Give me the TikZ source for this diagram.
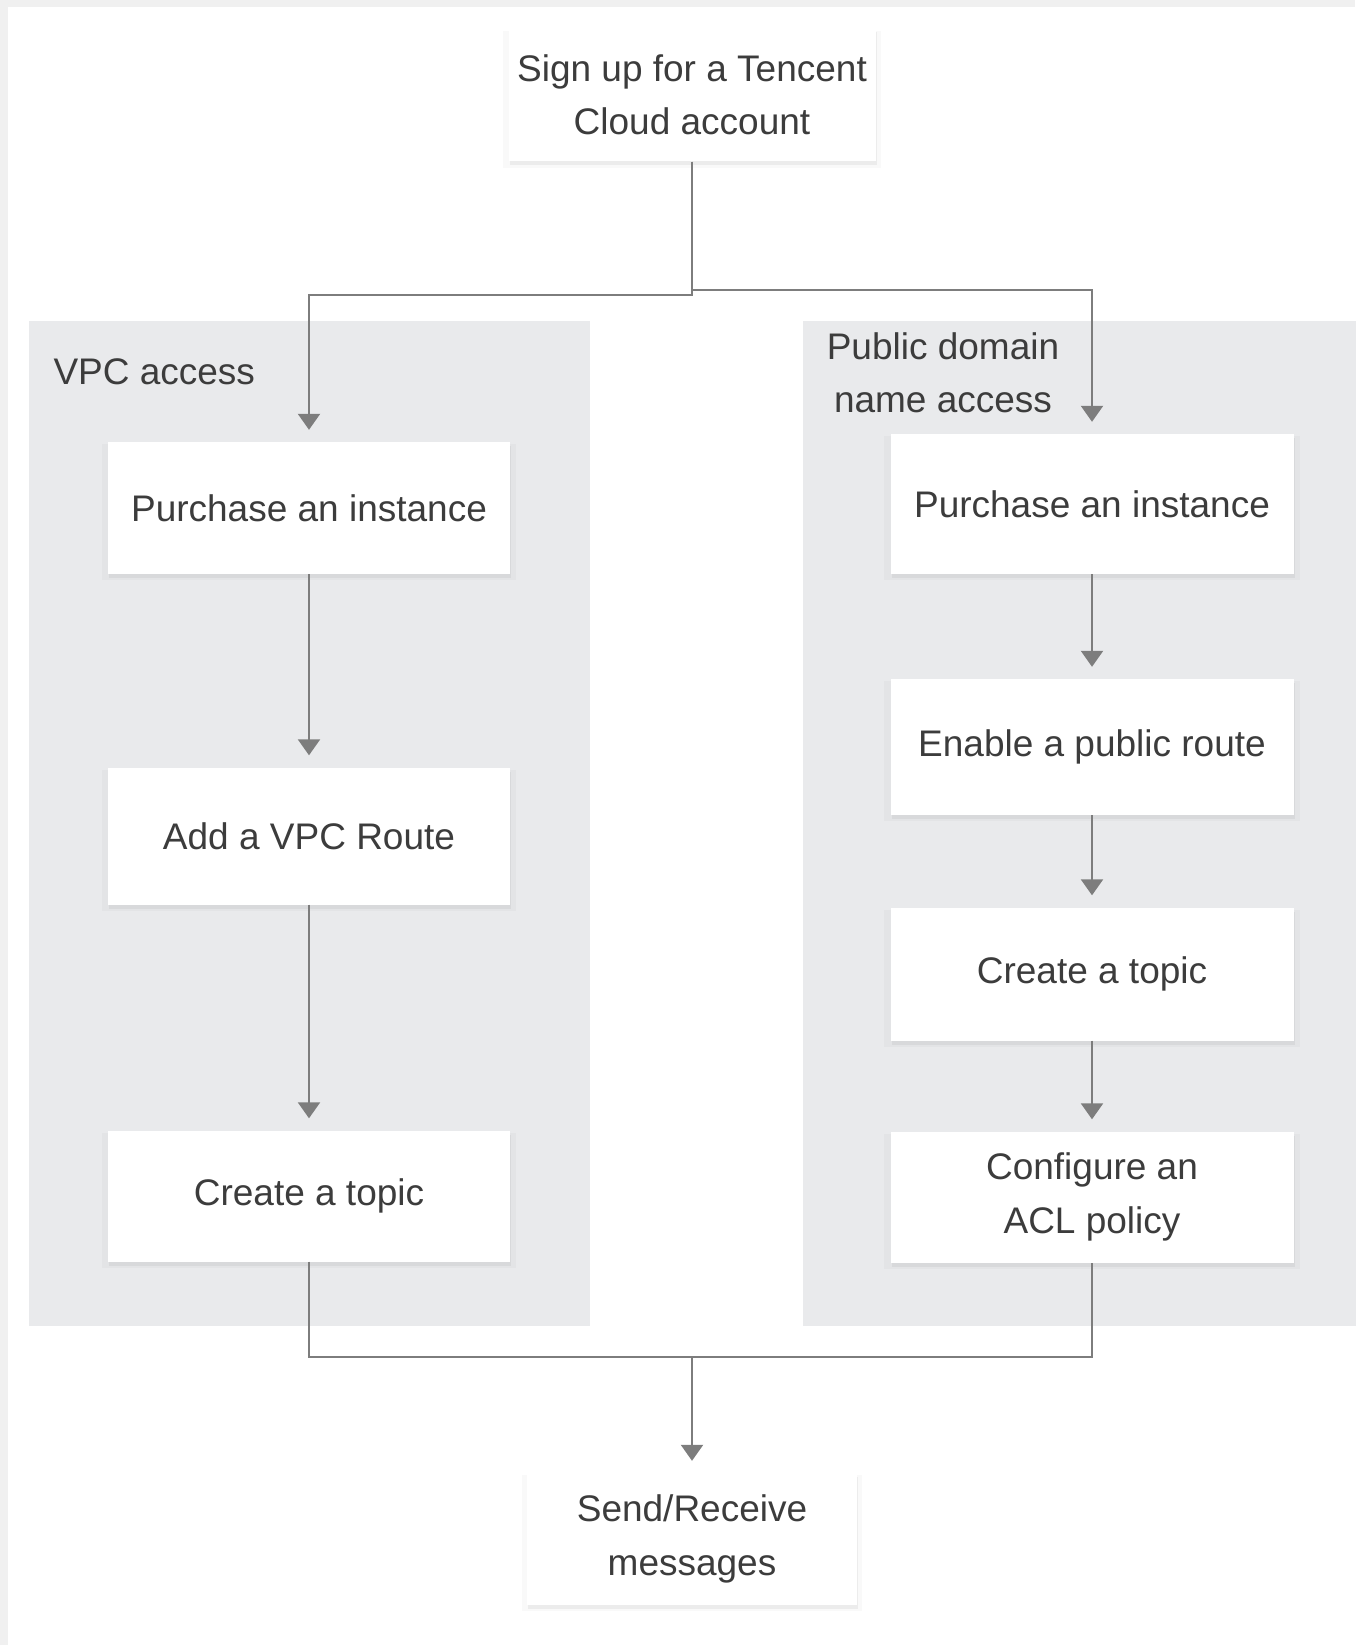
\documentclass[tikz,border=0pt]{standalone}
\usepackage{fontspec}
\setmainfont{Liberation Sans}
\usetikzlibrary{arrows.meta,shadows}

\definecolor{panelgray}{HTML}{E9EAEC}
\definecolor{linegray}{HTML}{7D7D7D}
\definecolor{textgray}{HTML}{3C3C3C}

\tikzset{
  label font/.style={text=textgray, font=\fontsize{37}{53.5}\selectfont},
  stepbox/.style={fill=white, label font, align=center,
    minimum width=402pt, minimum height=133pt,
    drop shadow={opacity=0.05, shadow xshift=0pt, shadow yshift=-4pt, shadow scale=1.03},
    drop shadow={opacity=0.10, shadow xshift=1pt, shadow yshift=-4pt}},
  flow/.style={draw=linegray, line width=2.3pt},
  flowarrow/.style={flow, -{Triangle[width=22pt,length=16pt]}, shorten >=12pt},
}

\begin{document}
\begin{tikzpicture}[x=1pt,y=-1pt]

        \useasboundingbox (0,0) rectangle (1364,1645);
        \fill[black!6] (0,0) rectangle (8,1645);
        \fill[black!6] (0,0) rectangle (1355,7);

        % the two access panels
        \fill[panelgray] (29,321) rectangle (590,1326);
        \fill[panelgray] (803,321) rectangle (1356,1326);
        \node[label font, anchor=west] (vpclabel) at (50,372) {VPC access};
        \node[label font, align=center] (publabel) at (943,373) {Public domain\\name access};

        \begin{scope}[every node/.style={stepbox}]
          \node[minimum width=367pt] (sign) at (692,95) {Sign up for a Tencent\\Cloud account};

          \node[minimum height=132pt] (vpc1) at (309,508)  {Purchase an instance};
          \node[minimum height=137pt] (vpc2) at (309,836)  {Add a VPC Route};
          \node[minimum height=131pt] (vpc3) at (309,1196) {Create a topic};

          \node[minimum width=403pt, minimum height=140pt] (pub1) at (1092,504)  {Purchase an instance};
          \node[minimum width=403pt, minimum height=136pt] (pub2) at (1092,747)  {Enable a public route};
          \node[minimum width=403pt, minimum height=133pt] (pub3) at (1092,974)  {Create a topic};
          \node[minimum width=403pt, minimum height=131pt] (pub4) at (1092,1197) {Configure an\\ACL policy};

          \node[minimum width=330pt, minimum height=132pt] (send) at (692,1539) {Send/Receive\\messages};
        \end{scope}

        \coordinate (join) at (692,1357);

        \path[flowarrow] (sign.south) -- ++(0,133) -| (vpc1.north);
        \path[flowarrow] (sign.south) -- ++(0,128) -| (pub1.north);

        \path[flowarrow] (vpc1.south) -- (vpc2.north);
        \path[flowarrow] (vpc2.south) -- (vpc3.north);

        \path[flowarrow] (pub1.south) -- (pub2.north);
        \path[flowarrow] (pub2.south) -- (pub3.north);
        \path[flowarrow] (pub3.south) -- (pub4.north);

        \path[flow] (vpc3.south) |- (join) -| (pub4.south);
        \path[flowarrow] (join) -- (send.north);

\end{tikzpicture}
\end{document}
